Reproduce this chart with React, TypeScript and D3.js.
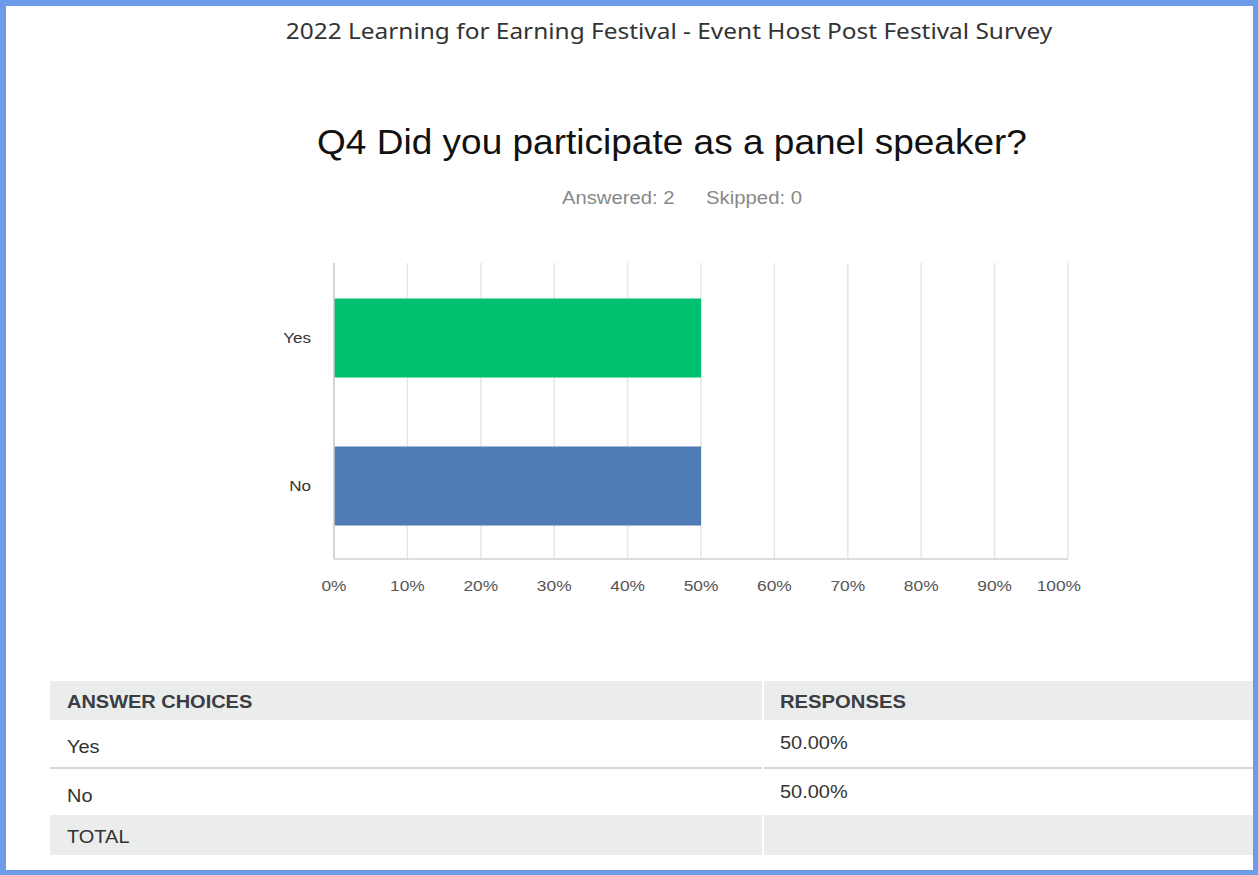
import React from "react";
import * as d3 from "d3";

const categories = ["Yes", "No"];
const values = [50, 50];
const barColors = ["#00bf6f", "#507cb6"];
const ticks = [0, 10, 20, 30, 40, 50, 60, 70, 80, 90, 100];
const tableHeaders = ["ANSWER CHOICES", "RESPONSES"];
const tableRows = [
  ["Yes", "50.00%"],
  ["No", "50.00%"],
];
const totalLabel = "TOTAL";

const W = 1258;
const H = 875;
const sans = "'Liberation Sans', Arial, sans-serif";

type TProps = {
  x: number;
  y: number;
  sx?: number;
  size: number;
  anchor?: "start" | "middle" | "end";
  fill?: string;
  weight?: string;
  family?: string;
  children: React.ReactNode;
};

function T({ x, y, sx = 1, size, anchor = "start", fill = "#333", weight = "normal", family = sans, children }: TProps) {
  return (
    <text
      transform={`translate(${x},${y}) scale(${sx},1)`}
      textAnchor={anchor}
      fontFamily={family}
      fontSize={size}
      fontWeight={weight}
      fill={fill}
    >
      {children}
    </text>
  );
}

export default function App() {
  const plot = { left: 334, right: 1068, top: 263, bottom: 559 };
  const x = d3.scaleLinear().domain([0, 100]).range([plot.left, plot.right]);
  const y = d3
    .scaleBand<string>()
    .domain(categories)
    .range([plot.top, plot.bottom])
    .paddingInner(0.466)
    .paddingOuter(0.233);

  const col1 = 50;
  const col2 = 764;
  const headerY = 681;
  const headerH = 39;
  const rowYs = [720, 769];
  const totalY = 815;
  const totalH = 40;
  const lastTick = ticks[ticks.length - 1];

  return (
    <svg
      width={W}
      height={H}
      style={{ position: "absolute", left: 0, top: 0, background: "#fff" }}
    >
      <rect x={0} y={0} width={W} height={H} fill="#fff" />
      <T x={669} y={39} sx={1.164} size={21} anchor="middle" family="'Noto Sans', 'Open Sans', sans-serif" fill="#333">
        2022 Learning for Earning Festival - Event Host Post Festival Survey
      </T>
      <T x={672} y={154} sx={1.058} size={35} anchor="middle" fill="#111">
        Q4 Did you participate as a panel speaker?
      </T>
      <T x={562} y={204} sx={1.125} size={18} fill="#888">
        Answered: 2
      </T>
      <T x={706} y={204} sx={1.13} size={18} fill="#888">
        Skipped: 0
      </T>

      {/* gridlines */}
      {ticks.map((t) => (
        <line
          key={"g" + t}
          x1={x(t)}
          x2={x(t)}
          y1={plot.top}
          y2={plot.bottom}
          stroke="#e6e6e6"
          strokeWidth={1.5}
        />
      ))}
      {/* bars */}
      {categories.map((c, i) => (
        <rect
          key={c}
          x={x(0)}
          y={(y(c) as number) + 1}
          width={x(values[i]) - x(0)}
          height={y.bandwidth()}
          fill={barColors[i]}
        />
      ))}
      {/* axes */}
      <line x1={plot.left} x2={plot.left} y1={plot.top} y2={plot.bottom} stroke="#ccc" strokeWidth={1.5} />
      <line x1={plot.left} x2={plot.right} y1={plot.bottom} y2={plot.bottom} stroke="#d3d3d3" strokeWidth={1.5} />
      {ticks.map((t) => (
        <T
          key={"t" + t}
          x={t === lastTick ? x(t) + 13 : x(t)}
          y={591}
          sx={1.12}
          size={15.5}
          anchor={t === lastTick ? "end" : "middle"}
          fill="#555"
        >
          {t + "%"}
        </T>
      ))}
      {categories.map((c) => (
        <T
          key={"l" + c}
          x={311}
          y={(y(c) as number) + y.bandwidth() / 2 + 6}
          sx={1.1}
          size={15.5}
          anchor="end"
          fill="#333"
        >
          {c}
        </T>
      ))}

      {/* table */}
      <rect x={col1} y={headerY} width={col2 - 2 - col1} height={headerH} fill="#ebecec" />
      <rect x={col2} y={headerY} width={W - col2} height={headerH} fill="#ebecec" />
      <T x={67} y={707.5} sx={1.11} size={18} weight="bold" fill="#3a3d44">
        {tableHeaders[0]}
      </T>
      <T x={780} y={707.5} sx={1.125} size={18} weight="bold" fill="#3a3d44">
        {tableHeaders[1]}
      </T>
      {tableRows.map((r, i) => (
        <g key={"r" + i}>
          <T x={67} y={rowYs[i] + 32.5} sx={1.11} size={18} fill="#333">
            {r[0]}
          </T>
          <T x={780} y={rowYs[i] + 28.5} sx={1.11} size={18} fill="#333">
            {r[1]}
          </T>
        </g>
      ))}
      <rect x={col1} y={767} width={col2 - 2 - col1} height={2} fill="#d5d5d5" />
      <rect x={col2} y={767} width={W - col2} height={2} fill="#d5d5d5" />
      <rect x={col1} y={totalY} width={col2 - 2 - col1} height={totalH} fill="#ebecec" />
      <rect x={col2} y={totalY} width={W - col2} height={totalH} fill="#ebecec" />
      <T x={67} y={842.5} sx={1.11} size={18} fill="#333">
        {totalLabel}
      </T>

      {/* frame */}
      <rect x={0} y={0} width={W} height={6} fill="#6c9ce9" />
      <rect x={0} y={0} width={6} height={H} fill="#6c9ce9" />
      <rect x={W - 5} y={0} width={5} height={H} fill="#6c9ce9" />
      <rect x={0} y={H - 5} width={W} height={5} fill="#6c9ce9" />
    </svg>
  );
}
